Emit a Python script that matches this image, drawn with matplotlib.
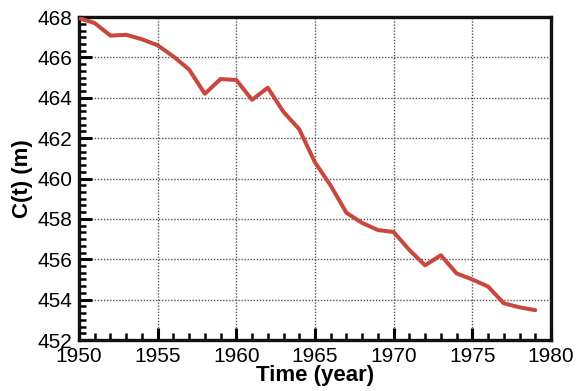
import numpy as np
import matplotlib
matplotlib.use('Agg')
import matplotlib.pyplot as plt
from matplotlib.ticker import MultipleLocator, AutoMinorLocator

plt.rcParams['font.family'] = ['Liberation Sans', 'DejaVu Sans']

### Series: annual values of C(t)
years = [1950, 1951, 1952, 1953, 1954, 1955, 1956, 1957, 1958, 1959,
         1960, 1961, 1962, 1963, 1964, 1965, 1966, 1967, 1968, 1969,
         1970, 1971, 1972, 1973, 1974, 1975, 1976, 1977, 1978, 1979]
c_t = [467.95, 467.7, 467.08, 467.12, 466.9, 466.6, 466.05, 465.4, 464.2, 464.93,
       464.88, 463.9, 464.5, 463.3, 462.44, 460.8, 459.65, 458.3, 457.8, 457.45,
       457.35, 456.46, 455.7, 456.2, 455.3, 455.0, 454.65, 453.82, 453.62, 453.48]

fig = plt.figure(figsize=(5.82, 3.91), dpi=100)
ax = fig.add_axes([0.1357, 0.1304, 0.811, 0.826])

ax.plot(years, c_t, color='#c8473e', linewidth=2.9, solid_capstyle='round', zorder=3)

ax.set_xlim(1950, 1980)
ax.set_ylim(452, 468)
ax.xaxis.set_major_locator(MultipleLocator(5))
ax.xaxis.set_minor_locator(AutoMinorLocator(5))
ax.yaxis.set_major_locator(MultipleLocator(2))
ax.yaxis.set_minor_locator(AutoMinorLocator(6))

ax.grid(True, which='major', color='#555555', linestyle=(0, (1, 1.2)), linewidth=1.0)
ax.tick_params(which='both', direction='in', top=False, right=False,
               labelsize=15, width=2.2, color='black')
ax.tick_params(which='major', length=9, pad=5)
ax.tick_params(which='minor', length=5, width=1.8)

for side in ['left', 'bottom', 'right', 'top']:
    ax.spines[side].set_linewidth(2.4)
    ax.spines[side].set_color('#111111')

ax.set_xlabel('Time (year)', fontsize=16, fontweight='bold', labelpad=-1)
ax.set_ylabel('C(t) (m)', fontsize=16, fontweight='bold', labelpad=3)

plt.savefig('out.png', dpi=100)
